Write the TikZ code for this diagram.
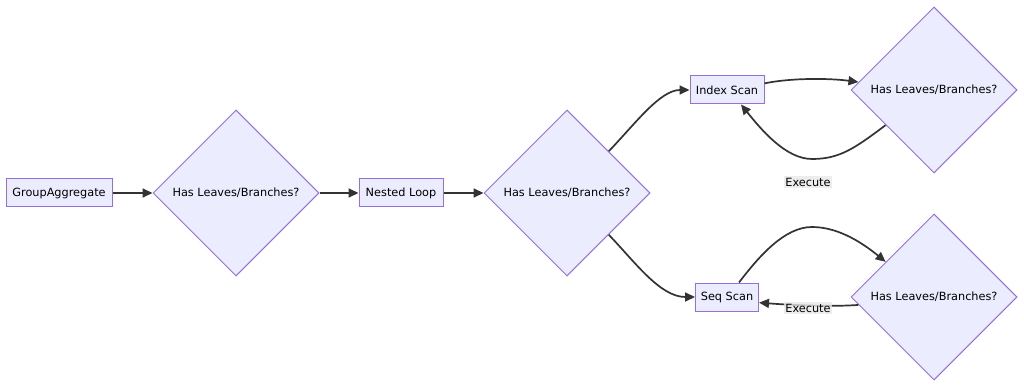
\documentclass[tikz,border=0pt]{standalone}
\usepackage{fontspec}
\setmainfont{DejaVu Sans}
\usetikzlibrary{shapes.geometric,arrows.meta}
\definecolor{nodefill}{HTML}{ECECFF}
\definecolor{nodeline}{HTML}{9370DB}
\definecolor{edgecol}{HTML}{333333}
\definecolor{lblbg}{HTML}{E8E8E8}
\tikzset{
  procbox/.style={draw=nodeline,fill=nodefill,line width=1pt,inner sep=0pt,minimum height=28pt,font=\fontsize{11.3}{13}\selectfont},
  decide/.style={diamond,aspect=1,draw=nodeline,fill=nodefill,line width=1pt,inner sep=0pt,minimum width=166pt,minimum height=166pt,font=\fontsize{11.3}{13}\selectfont},
  flow/.style={draw=edgecol,line width=1.7pt,-{Triangle[length=10pt,width=9pt]}},
  lbl/.style={fill=lblbg,fill opacity=0.8,text opacity=1,inner sep=1.5pt,font=\fontsize{11.3}{13}\selectfont}
}
\begin{document}
\begin{tikzpicture}[x=1pt,y=-1pt]
\useasboundingbox (0,0) rectangle (1024,387);
\node[procbox,minimum width=106pt] (ga) at (59,193) {GroupAggregate};
\node[decide] (d1) at (236,193) {Has Leaves/Branches?};
\node[procbox,minimum width=84pt] (nl) at (401,193) {Nested Loop};
\node[decide] (d2) at (567,193) {Has Leaves/Branches?};
\node[procbox,minimum width=74pt] (is) at (727,90) {Index Scan};
\node[decide] (d3) at (934,90) {Has Leaves/Branches?};
\node[procbox,minimum width=63pt] (ss) at (727,297) {Seq Scan};
\node[decide] (d4) at (934,297) {Has Leaves/Branches?};

\draw[flow] (ga) -- (d1);
\draw[flow] (d1) -- (nl);
\draw[flow] (nl) -- (d2);
\draw[flow] (d2.45) .. controls (635,124) and (660,90) .. (is.west);
\draw[flow] (d2.-45) .. controls (635,262) and (660,297) .. (ss.west);
\draw[flow] (is.10) .. controls (790,78) and (828,78) .. (d3.174);
\draw[flow] (d3.216) .. controls (855,148) and (840,159) .. (812,159) .. controls (785,159) and (760,128) .. ([xshift=14pt]is.south);
\node[lbl] (ex1) at (808,182) {Execute};
\draw[flow] ([xshift=12pt]ss.north) .. controls (760,255) and (785,227) .. (812,227) .. controls (840,227) and (865,245) .. (d4.144);
\draw[flow] (d4.186) .. controls (830,307) and (790,305) .. (ss.-10);
\node[lbl] (ex2) at (808,308) {Execute};
\end{tikzpicture}
\end{document}
